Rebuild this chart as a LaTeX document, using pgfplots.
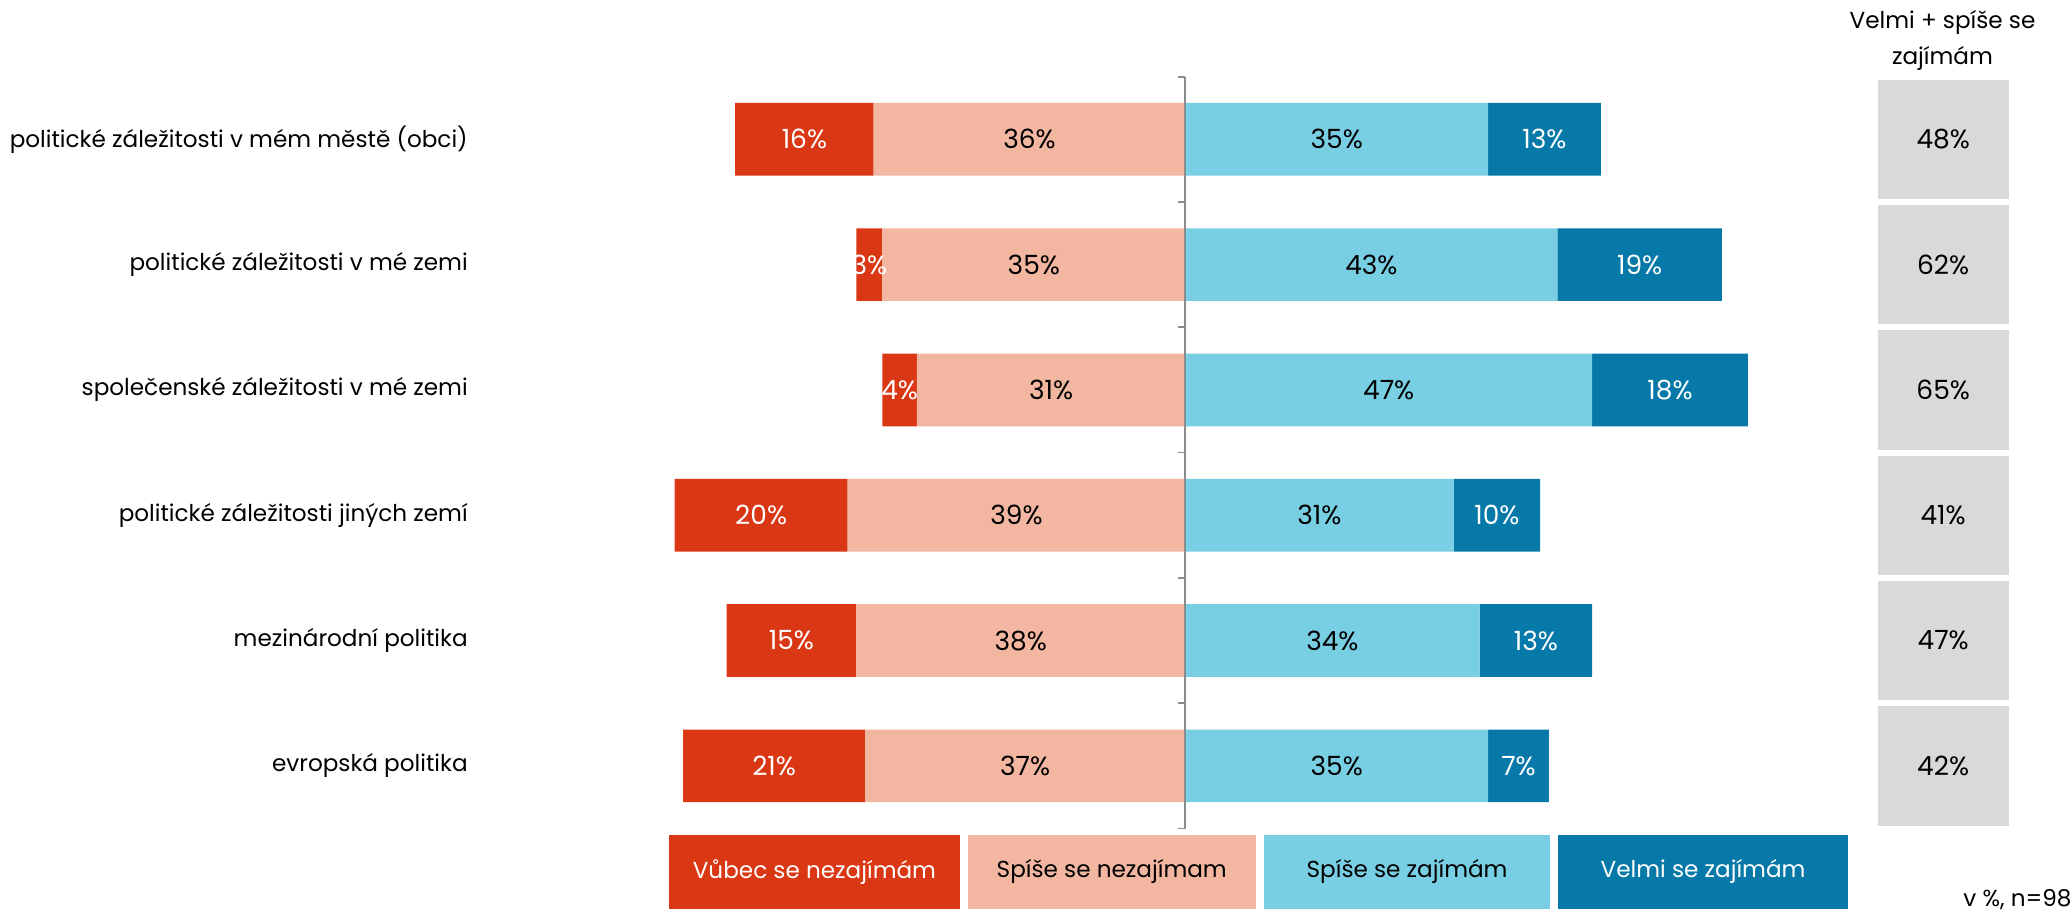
\documentclass[border=0pt]{standalone}
\usepackage{pgfplots}
\pgfplotsset{compat=1.18}
\usepackage{pgfplotstable}
\usepackage{fontspec}
\setmainfont{Poppins}

\definecolor{cVuz}{HTML}{DA3714}
\definecolor{cSn}{HTML}{F2B6A1}
\definecolor{cSz}{HTML}{78CFE3}
\definecolor{cVz}{HTML}{0679A8}
\definecolor{cGray}{HTML}{D9D9D9}
\definecolor{cAxis}{HTML}{8C8C8C}

% vuz = Vubec se nezajimam, sn = Spise se nezajimam, sz = Spise se zajimam, vz = Velmi se zajimam
\pgfplotstableread{
idx vuz sn sz vz tot
1 16 36 35 13 48
2 3 35 43 19 62
3 4 31 47 18 65
4 20 39 31 10 41
5 15 38 34 13 47
6 21 37 35 7 42
}\data

\pgfplotsset{
  pos/.style={at={(215.9pt,39.6pt)}, anchor=south west,
    scale only axis, width=597.4pt, height=341.4pt,
    xmin=-82, xmax=70, ymin=0.5, ymax=6.5, y dir=reverse, clip=false,
    /pgf/number format/assume math mode=true},
  lbl/.style={only marks, mark=*, mark size=0pt,
    mark options={draw=none, fill=none},
    scatter/use mapped color={draw=none, fill=none},
    point meta=explicit,
    nodes near coords={\pgfmathprintnumber{\pgfplotspointmeta}\%},
    every node near coord/.append style={anchor=center, text=#1,
        font=\fontsize{12}{14}\selectfont}},
}

\begin{document}
\begin{tikzpicture}[font=\fontsize{10.5}{12.6}\selectfont]
\useasboundingbox (0,0) rectangle (940.8pt,415.8pt);

\begin{axis}[pos,
    xbar stacked, bar width=33pt,
    axis x line=none, axis y line*=left,
    y axis line style={draw=none}, major tick length=0pt,
    ytick={1,...,6},
    yticklabels={politické záležitosti v mém městě (obci), politické záležitosti v mé zemi, společenské záležitosti v mé zemi, politické záležitosti jiných zemí, mezinárodní politika, evropská politika},
    yticklabel style={text=black},
]
% left side (negatives stack separately)
\addplot[fill=cSn, draw=none] table[x expr=-\thisrow{sn}, y=idx]{\data};
\addplot[fill=cVuz, draw=none] table[x expr=-\thisrow{vuz}, y=idx]{\data};
% right side
\addplot[fill=cSz, draw=none] table[x=sz, y=idx]{\data};
\addplot[fill=cVz, draw=none] table[x=vz, y=idx]{\data};
\end{axis}

\begin{axis}[pos, hide axis]
% centre line
\addplot[cAxis, line width=0.8pt, mark=-, mark size=1.6pt, mark options={xshift=-1.6pt}]
    coordinates {(0,0.5) (0,1.5) (0,2.5) (0,3.5) (0,4.5) (0,5.5) (0,6.5)};
% value labels in the middle of each segment
\addplot[lbl=black] table[x expr=-\thisrow{sn}/2, y=idx, meta=sn]{\data};
\addplot[lbl=white] table[x expr=-\thisrow{sn}-\thisrow{vuz}/2, y=idx, meta=vuz]{\data};
\addplot[lbl=black] table[x expr=\thisrow{sz}/2, y=idx, meta=sz]{\data};
\addplot[lbl=white] table[x expr=\thisrow{sz}+\thisrow{vz}/2, y=idx, meta=vz]{\data};
% Velmi + spise se zajimam
\addplot[lbl=black,
    every node near coord/.append style={fill=cGray,
        minimum width=59.4pt, minimum height=54.2pt, inner sep=0pt}]
    table[x expr=87.56, y=idx, meta=tot]{\data};
\end{axis}

\node[align=center, font=\fontsize{10.5}{16.2}\selectfont] at (882pt,397.5pt) {Velmi + spíše se\\zajímám};

\node[fill=cVuz, text=white, minimum width=132pt, minimum height=33.6pt, inner sep=0pt, anchor=south west] at (303.6pt,3pt) {Vůbec se nezajímám};
\node[fill=cSn, text=black, minimum width=130.8pt, minimum height=33.6pt, inner sep=0pt, anchor=south west] at (439.2pt,3pt) {Spíše se nezajímam};
\node[fill=cSz, text=black, minimum width=130.2pt, minimum height=33.6pt, inner sep=0pt, anchor=south west] at (573.6pt,3pt) {Spíše se zajímám};
\node[fill=cVz, text=white, minimum width=131.4pt, minimum height=33.6pt, inner sep=0pt, anchor=south west] at (707.4pt,3pt) {Velmi se zajímám};

\node[anchor=east, inner sep=0pt] at (940.8pt,7.5pt) {v \%, n=98};
\end{tikzpicture}
\end{document}
